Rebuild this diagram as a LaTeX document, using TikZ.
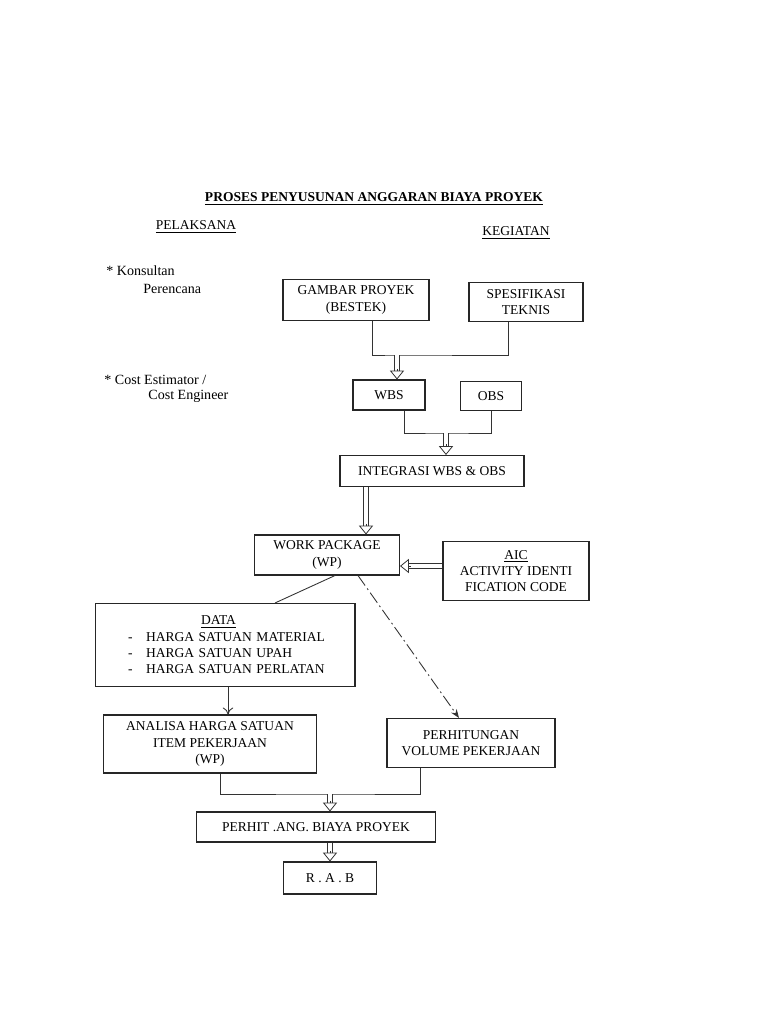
\documentclass[tikz,border=0pt]{standalone}
\usepackage{fontspec}
\setmainfont{Liberation Serif}
\usetikzlibrary{arrows.meta,calc}

\begin{document}
\begin{tikzpicture}[x=0.02cm,y=-0.02cm,line width=0.6pt,>=Stealth,
  font=\fontsize{7.7}{9.3}\selectfont,
  box/.style={draw=black!85,inner sep=0pt,align=center},
  ln/.style={draw=black!80,line width=0.5pt},
  dbl/.style={draw=black!80,double,double distance=2.4pt,line width=0.45pt,shorten >=5pt},
  tip/.style={draw=black!80,line width=0.45pt,-{Triangle[open,length=5pt,width=8pt]}}]
\useasboundingbox (0,0) rectangle (768,1024);
% ---------- hollow double arrow: shaft then open head ----------
% #1 = from, #2 = to
\newcommand{\dblarrow}[2]{%
  \draw[dbl] #1 -- #2;
  \draw[tip] ($#2!6pt!#1$) -- #2;
}
% ---------- heading ----------
\node (title) at (374,199) {\bfseries\underline{PROSES PENYUSUNAN ANGGARAN BIAYA PROYEK}};
\node (pel) at (196,227) {\underline{PELAKSANA}};
\node (keg) at (516,233) {\underline{KEGIATAN}};
% ---------- executors on the left ----------
\node[anchor=west,font=\fontsize{8}{9.6}\selectfont] (kons) at (100,271) {* Konsultan};
\node[anchor=west,font=\fontsize{8}{9.6}\selectfont] (kons2) at (137,289) {Perencana};
\node[anchor=west,font=\fontsize{8}{9.6}\selectfont] (cost) at (98,380) {* Cost Estimator /};
\node[anchor=west,font=\fontsize{8}{9.6}\selectfont] (cost2) at (142,396) {Cost Engineer};
% ---------- boxes ----------
\node[box,minimum width=2.92cm,minimum height=0.82cm] (gambar) at (356,300) {GAMBAR PROYEK\\(BESTEK)};
\node[box,minimum width=2.28cm,minimum height=0.78cm] (spek) at (526,302) {SPESIFIKASI\\TEKNIS};
\node[box,minimum width=1.44cm,minimum height=0.60cm] (wbs) at (389,395) {WBS};
\node[box,minimum width=1.22cm,minimum height=0.58cm] (obs) at (491,396) {OBS};
\node[box,minimum width=3.68cm,minimum height=0.62cm] (integ) at (432,471) {INTEGRASI WBS \& OBS};
\node[box,minimum width=2.90cm,minimum height=0.80cm] (wp) at (327,555) {WORK PACKAGE\\(WP)};
\node[box,minimum width=2.92cm,minimum height=1.18cm] (aic) at (516,571) {\underline{AIC}\\ACTIVITY IDENTI\\FICATION CODE};
\node[box,text width=5.2cm,minimum height=1.66cm,align=left] (data) at (225,645)
  {\hspace*{2.12cm}\underline{DATA}\\
   \hspace*{0.66cm}\makebox[0.36cm][l]{-}HARGA SATUAN MATERIAL\\
   \hspace*{0.66cm}\makebox[0.36cm][l]{-}HARGA SATUAN UPAH\\
   \hspace*{0.66cm}\makebox[0.36cm][l]{-}HARGA SATUAN PERLATAN};
\node[box,minimum width=4.26cm,minimum height=1.16cm] (analisa) at (210,744) {ANALISA HARGA SATUAN\\ITEM PEKERJAAN\\(WP)};
\node[box,minimum width=3.36cm,minimum height=0.98cm] (volume) at (471,743) {PERHITUNGAN\\VOLUME PEKERJAAN};
\node[box,minimum width=4.78cm,minimum height=0.60cm] (biaya) at (316,827) {PERHIT .ANG. BIAYA PROYEK};
\node[box,minimum width=1.86cm,minimum height=0.64cm] (rab) at (330,878) {R . A . B};
% ---------- connectors ----------
\coordinate (busA) at (397,355);
\coordinate (busB) at (446,433);
\coordinate (busC) at (330,794);
\coordinate (iw) at ($(integ.south)+(-66,0)$);
\coordinate (aw) at ($(aic.west)+(0,-5)$);
\coordinate (bw) at ($(biaya.south)+(14,0)$);
\draw[ln] ($(gambar.south)+(16,0)$) |- (busA) -| ($(spek.south)+(-18,0)$);
\dblarrow{(busA)}{(wbs.north -| busA)}
\draw[ln] ($(wbs.south)+(15,0)$) |- (busB) -| (obs.south);
\dblarrow{(busB)}{(integ.north -| busB)}
\dblarrow{(iw)}{(wp.north -| iw)}
\dblarrow{(aw)}{(wp.east |- aw)}
\draw[ln] ($(wp.south)+(8,0)$) -- ($(data.north)+(50,0)$);
\draw[ln,dash pattern=on 7pt off 2pt on 1pt off 2pt,-{Stealth[length=5pt]}] ($(wp.south)+(31,0)$) -- ($(volume.north)+(-12,0)$);
\draw[ln,-{To[length=4pt,width=6pt]}] ($(data.south)+(3,0)$) coordinate (dw) -- (analisa.north -| dw);
\draw[ln] ($(analisa.south)+(10,0)$) |- (busC) -| ($(volume.south)+(-51,0)$);
\dblarrow{(busC)}{(biaya.north -| busC)}
\dblarrow{(bw)}{(rab.north)}
\end{tikzpicture}
\end{document}
